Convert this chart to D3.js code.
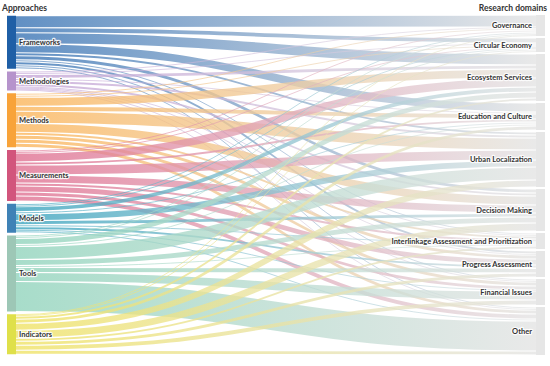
<!DOCTYPE html>
<html>
<head>
<meta charset="utf-8">
<script src="https://cdn.jsdelivr.net/npm/d3@7"></script>
<style>
  body { margin: 0; background: #fff; }
  text { font-family: Lato, "Open Sans", sans-serif; font-weight: bold; fill: #333; }
</style>
</head>
<body>
<div id="vis"></div>
<script>
// approaches (left column) and research domains (right column)
var approaches = ["Frameworks", "Methodologies", "Methods", "Measurements", "Models", "Tools", "Indicators"];
var domains = ["Governance", "Circular Economy", "Ecosystem Services", "Education and Culture",
  "Urban Localization", "Decision Making", "Interlinkage Assessment and Prioritization",
  "Progress Assessment", "Financial Issues", "Other"];

// one row per approach, one column per domain
var flowsFrameworks    = [12, 5, 11, 9, 3, 4, 2, 3, 2, 2];
var flowsMethodologies = [1, 2, 4, 2, 3, 3, 1, 1, 1, 1];
var flowsMethods       = [2, 2, 9, 5, 12, 9, 3, 4, 4, 4];
var flowsMeasurements  = [2, 1, 9, 3, 10, 8, 3, 6, 4, 5];
var flowsModels        = [2, 1, 5, 2, 7, 4, 2, 3, 1, 2];
var flowsTools         = [1, 2, 6, 2, 13, 6, 2, 5, 9, 30];
var flowsIndicators    = [1, 1, 3, 4, 7, 8, 3, 4, 5, 4];

var flows = [flowsFrameworks, flowsMethodologies, flowsMethods, flowsMeasurements,
  flowsModels, flowsTools, flowsIndicators];

var nodeColor = ["#1f5fa6", "#b694cc", "#f8a33a", "#d2557c", "#3f82b6", "#9dc7b6", "#dfe04a"];
var linkColor = ["#3571b3", "#c3a3d6", "#fbb458", "#df6e8f", "#37a2bd", "#8fd3bb", "#efe263"];

var width = 550;
var height = 366;
var y0 = 15, y1 = 355;
var xLeft = 7, xRight = 536;
var nodeWidth = 9;
var nodePad = 2;

var svg = d3.select('#vis')
  .append('svg')
  .attr('width', width)
  .attr('height', height);

var leftTotals = flows.map(function (r) { return d3.sum(r); });
var rightTotals = domains.map(function (d, j) { return d3.sum(flows, function (r) { return r[j]; }); });
var total = d3.sum(leftTotals);

var ky = Math.min(
  (y1 - y0 - (approaches.length - 1) * nodePad) / total,
  (y1 - y0 - (domains.length - 1) * nodePad) / total);

// stack the nodes of a column, spreading the leftover space like d3-sankey does
function column(totals) {
  var y = y0;
  var nodes = totals.map(function (v) {
    var n = { y0: y, y1: y + v * ky };
    y = n.y1 + nodePad;
    return n;
  });
  var extra = (y1 - y + nodePad) / (nodes.length + 1);
  nodes.forEach(function (n, i) {
    n.y0 += extra * (i + 1);
    n.y1 += extra * (i + 1);
  });
  return nodes;
}

var leftNodes = column(leftTotals);
var rightNodes = column(rightTotals);

// link positions: at source ordered by target, at target ordered by source
var links = [];
var srcOff = leftNodes.map(function (n) { return n.y0; });
var tgtOff = rightNodes.map(function (n) { return n.y0; });
flows.forEach(function (row, i) {
  row.forEach(function (v, j) {
    links.push({ i: i, j: j, value: v, w: v * ky, sy: srcOff[i] + v * ky / 2 });
    srcOff[i] += v * ky;
  });
});
for (var j = 0; j < domains.length; j++) {
  links.filter(function (l) { return l.j === j; })
    .sort(function (a, b) { return a.i - b.i; })
    .forEach(function (l) {
      l.ty = tgtOff[j] + l.w / 2;
      tgtOff[j] += l.w;
    });
}

var defs = svg.append('defs');
links.forEach(function (l, k) {
  var g = defs.append('linearGradient')
    .attr('id', 'grad' + k)
    .attr('gradientUnits', 'userSpaceOnUse')
    .attr('x1', xLeft + nodeWidth)
    .attr('x2', xRight);
  g.append('stop').attr('offset', '0%').attr('stop-color', linkColor[l.i]);
  g.append('stop').attr('offset', '100%').attr('stop-color', '#e3e3e3');
});

var linkPath = d3.linkHorizontal();

svg.append('g')
  .selectAll('path')
  .data(links.filter(function (l) { return l.value > 0; }))
  .enter().append('path')
  .attr('d', function (l) {
    return linkPath({ source: [xLeft + nodeWidth, l.sy], target: [xRight, l.ty] });
  })
  .attr('fill', 'none')
  .attr('stroke', function (l) { return 'url(#grad' + links.indexOf(l) + ')'; })
  .attr('stroke-opacity', 0.78)
  .attr('stroke-width', function (l) { return Math.max(0.8, l.w - 1.2); });

// nodes
svg.append('g')
  .selectAll('rect')
  .data(leftNodes)
  .enter().append('rect')
  .attr('x', xLeft)
  .attr('y', function (d) { return d.y0; })
  .attr('width', nodeWidth)
  .attr('height', function (d) { return d.y1 - d.y0; })
  .attr('fill', function (d, i) { return nodeColor[i]; });

svg.append('g')
  .selectAll('rect')
  .data(rightNodes)
  .enter().append('rect')
  .attr('x', xRight)
  .attr('y', function (d) { return d.y0; })
  .attr('width', nodeWidth)
  .attr('height', function (d) { return d.y1 - d.y0; })
  .attr('fill', '#e6e6e6');

// labels
function halo(sel) {
  sel.attr('stroke', 'rgba(255,255,255,0.85)')
    .attr('stroke-width', 2.4)
    .attr('stroke-linejoin', 'round')
    .attr('paint-order', 'stroke');
}

svg.append('g')
  .selectAll('text')
  .data(leftNodes)
  .enter().append('text')
  .attr('x', xLeft + nodeWidth + 3)
  .attr('y', function (d) { return (d.y0 + d.y1) / 2; })
  .attr('dy', '0.35em')
  .attr('font-size', 7.5)
  .text(function (d, i) { return approaches[i]; })
  .call(halo);

svg.append('g')
  .selectAll('text')
  .data(rightNodes)
  .enter().append('text')
  .attr('x', xRight - 4)
  .attr('y', function (d) { return (d.y0 + d.y1) / 2; })
  .attr('dy', '0.35em')
  .attr('text-anchor', 'end')
  .attr('font-size', 7.5)
  .text(function (d, i) { return domains[i]; })
  .call(halo);

svg.append('text')
  .attr('x', 2)
  .attr('y', 11)
  .attr('font-size', 8.5)
  .text('Approaches');

svg.append('text')
  .attr('x', 547)
  .attr('y', 11)
  .attr('font-size', 8.5)
  .attr('text-anchor', 'end')
  .text('Research domains');
</script>
</body>
</html>
